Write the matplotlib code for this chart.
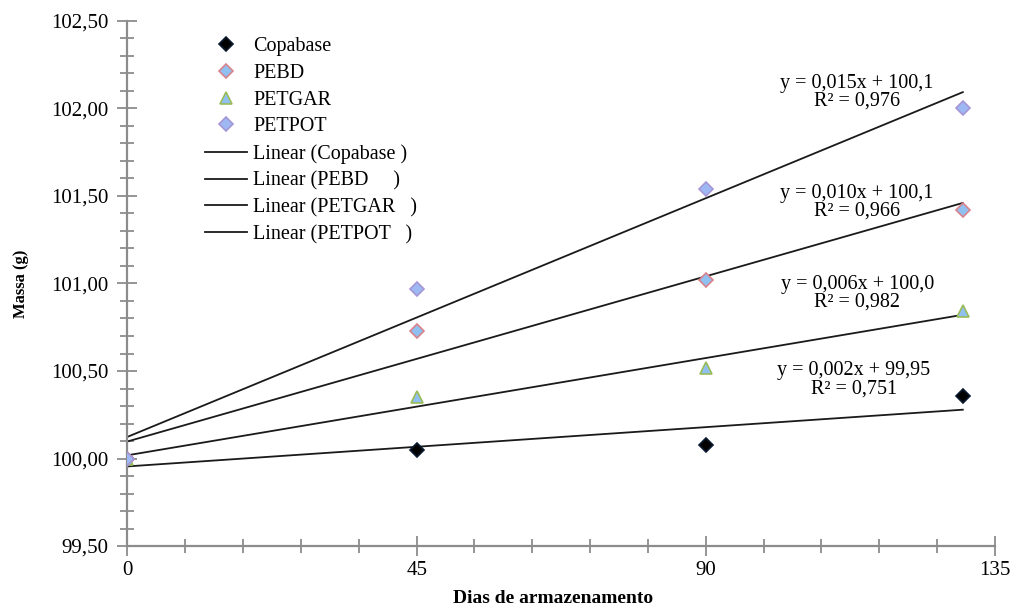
"""Mass change of packaged samples during storage, with linear trends."""

import matplotlib

matplotlib.use("Agg")
import matplotlib.pyplot as plt
import numpy as np
from matplotlib.ticker import FuncFormatter, MultipleLocator

plt.rcParams["font.family"] = ["Liberation Serif", "DejaVu Serif"]

DAYS = [0, 45, 90, 130]
SERIES = ["Copabase", "PEBD", "PETGAR", "PETPOT"]
COPABASE = [100.00, 100.047, 100.075, 100.358]
PEBD = [100.00, 100.728, 101.02, 101.42]
PETGAR = [100.00, 100.35, 100.52, 100.84]
PETPOT = [100.00, 100.97, 101.54, 102.00]
TREND_NAMES = ["Copabase ", "PEBD     ", "PETGAR   ", "PETPOT   "]

MARKER = {"Copabase": "D", "PEBD": "D", "PETGAR": "^", "PETPOT": "D"}
FACE = {"Copabase": "#000000", "PEBD": "#8fc0f0", "PETGAR": "#8fc0f0", "PETPOT": "#9db8f2"}
EDGE = {"Copabase": "#0a1a30", "PEBD": "#d9848c", "PETGAR": "#9bbb59", "PETPOT": "#a796d6"}
# where each trend equation sits (data coords)
EQ_POS = {"Copabase": (113.0, 100.45), "PEBD": (113.5, 101.465),
          "PETGAR": (113.6, 100.945), "PETPOT": (113.5, 102.09)}


def _comma(text: str) -> str:
    return text.replace(".", ",")


def _intercept(value: float) -> str:
    decimals = max(0, 4 - len(str(int(abs(value)))))
    return f"{value:.{decimals}f}"


def main() -> None:
    values = {"Copabase": COPABASE, "PEBD": PEBD, "PETGAR": PETGAR, "PETPOT": PETPOT}
    x = np.asarray(DAYS, dtype=float)

    fig = plt.figure(figsize=(10.1, 6.1), dpi=100)
    ax = fig.add_axes([0.1262, 0.1049, 0.8589, 0.8607])

    marker_handles = []
    line_handles = []
    for name, trend_name in zip(SERIES, TREND_NAMES):
        y = np.asarray(values[name], dtype=float)
        slope, inter = np.polyfit(x, y, 1)
        fitted = slope * x + inter
        r2 = 1 - ((y - fitted) ** 2).sum() / ((y - y.mean()) ** 2).sum()

        xs = np.array([x.min(), x.max()])
        (ln,) = ax.plot(xs, slope * xs + inter, color="#1a1a1a", lw=1.3, zorder=2,
                        label=f"Linear ({trend_name})")
        (pt,) = ax.plot(x, y, linestyle="none", marker=MARKER[name], ms=7 if MARKER[name] == "D" else 8,
                        mfc=FACE[name], mec=EDGE[name], mew=1.2, zorder=3, label=name)
        marker_handles.append(pt)
        line_handles.append(ln)

        eq = f"y = {_comma(f'{slope:.3f}')}x + {_comma(_intercept(inter))}\nR² = {_comma(f'{r2:.3f}')}"
        ex, ey = EQ_POS[name]
        ax.text(ex, ey, eq, ha="center", va="center", fontsize=14.5, linespacing=0.9, zorder=4)

    ax.set_xlim(0, 135)
    ax.set_ylim(99.5, 102.5)
    ax.xaxis.set_major_locator(MultipleLocator(45))
    ax.xaxis.set_minor_locator(MultipleLocator(9))
    ax.yaxis.set_major_locator(MultipleLocator(0.5))
    ax.yaxis.set_minor_locator(MultipleLocator(0.1))
    ax.yaxis.set_major_formatter(FuncFormatter(lambda v, _: _comma(f"{v:.2f}")))
    ax.xaxis.set_major_formatter(FuncFormatter(lambda v, _: f"{v:.0f}"))

    for side in ("top", "right"):
        ax.spines[side].set_visible(False)
    for side in ("left", "bottom"):
        ax.spines[side].set_color("#8c8c8c")
        ax.spines[side].set_linewidth(1.6)
    ax.tick_params(which="both", direction="inout", color="#8c8c8c", width=1.3)
    ax.tick_params(which="major", length=14, labelsize=15)
    ax.tick_params(which="minor", length=10)
    ax.tick_params(axis="x", which="major", pad=4)
    ax.tick_params(axis="y", which="major", pad=6.5)

    ax.set_xlabel("Dias de armazenamento", fontsize=14, fontweight="bold")
    ax.xaxis.set_label_coords(0.4905, -0.083)
    ax.set_ylabel("Massa (g)", fontsize=12, fontweight="bold", labelpad=16)

    handles = marker_handles + line_handles
    fig.legend(handles=handles, labels=[h.get_label() for h in handles],
               loc="upper left", bbox_to_anchor=(205 / 1010, 1 - 37 / 610),
               frameon=False, fontsize=14.5, borderpad=0, borderaxespad=0,
               handlelength=2.1, handletextpad=0.3, labelspacing=0.38)

    fig.savefig("out.png", dpi=100)
    plt.close(fig)


if __name__ == "__main__":
    main()
